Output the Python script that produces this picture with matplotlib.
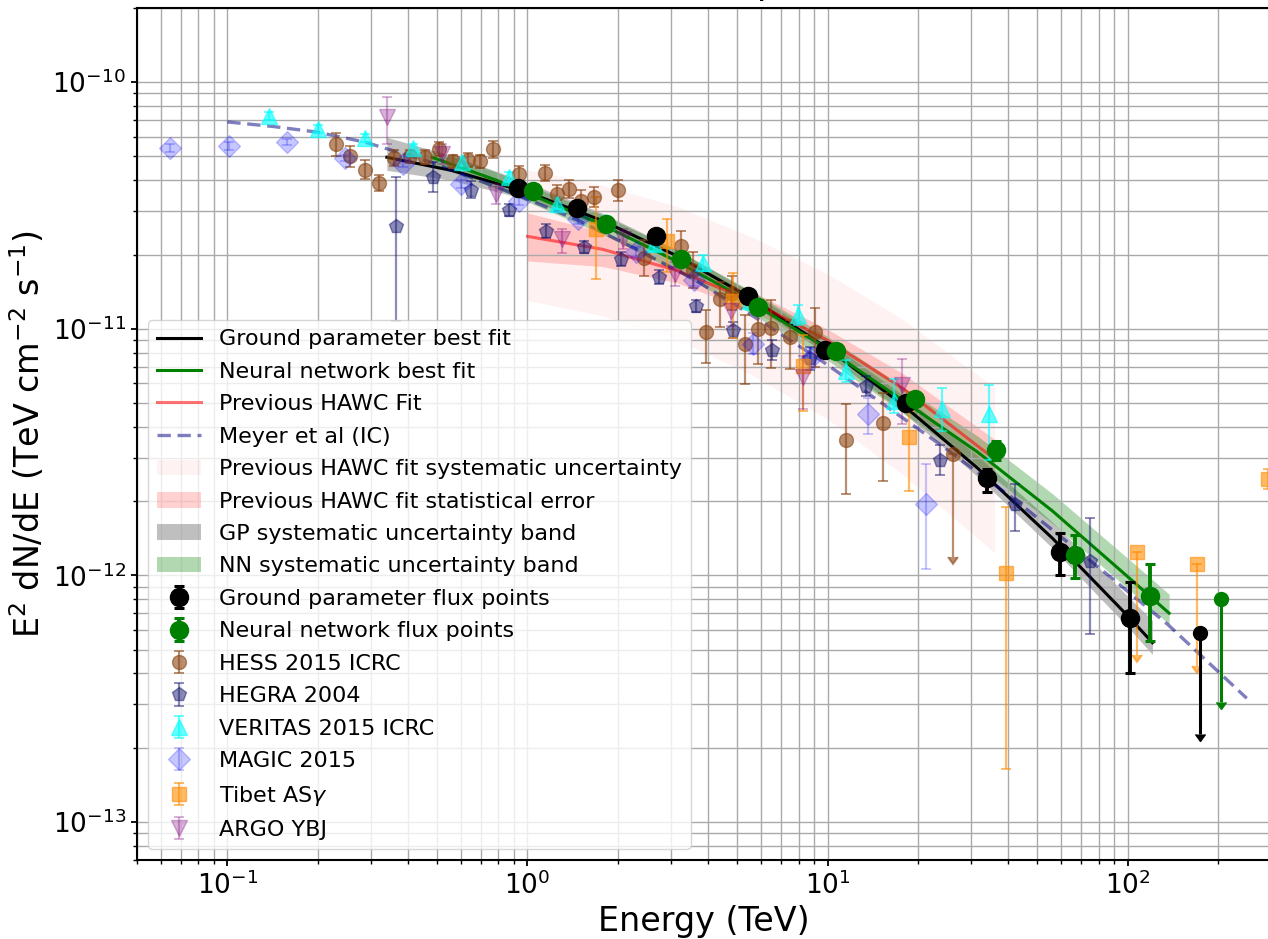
import numpy as np
import matplotlib
matplotlib.use("Agg")
import matplotlib.pyplot as plt

# ---------------- data ----------------
# Ground parameter (GP) flux points
gp_E = [0.933, 1.46, 2.69, 5.41, 9.82, 18.3, 34.0, 59.3, 101.6]
gp_F = [3.73e-11, 3.09e-11, 2.37e-11, 1.36e-11, 8.19e-12, 5.0e-12, 2.47e-12, 1.24e-12, 6.70e-13]
gp_lo = [3.60e-11, 2.98e-11, 2.28e-11, 1.30e-11, 7.8e-12, 4.75e-12, 2.17e-12, 1.0e-12, 4.0e-13]
gp_hi = [3.86e-11, 3.20e-11, 2.46e-11, 1.42e-11, 8.6e-12, 5.3e-12, 2.70e-12, 1.49e-12, 9.4e-13]
gp_ul_E = [174.6]
gp_ul_F = [5.83e-13]
gp_ul_end = [2.27e-13]

# Neural network (NN) flux points
nn_E = [1.04, 1.83, 3.25, 5.84, 10.7, 19.6, 36.3, 66.7, 118.4]
nn_F = [3.61e-11, 2.65e-11, 1.91e-11, 1.23e-11, 8.14e-12, 5.17e-12, 3.22e-12, 1.21e-12, 8.27e-13]
nn_lo = [3.50e-11, 2.57e-11, 1.85e-11, 1.19e-11, 7.85e-12, 4.95e-12, 2.93e-12, 9.76e-13, 5.4e-13]
nn_hi = [3.72e-11, 2.73e-11, 1.97e-11, 1.27e-11, 8.45e-12, 5.4e-12, 3.5e-12, 1.46e-12, 1.11e-12]
nn_ul_E = [204.0]
nn_ul_F = [8.04e-13]
nn_ul_end = [3.07e-13]

# GP best fit curve and systematic band (band offsets in dex)
gp_fit_E = [0.34, 0.562, 1.0, 1.78, 3.16, 5.62, 10.0, 17.8, 31.6, 56.2, 100.0, 120.8]
gp_fit_F = [4.96e-11, 4.38e-11, 3.58e-11, 2.74e-11, 1.97e-11, 1.32e-11, 8.32e-12,
            4.91e-12, 2.72e-12, 1.41e-12, 6.84e-13, 5.33e-13]
gp_band_up = [0.081, 0.06, 0.04, 0.03, 0.025, 0.025, 0.03, 0.04, 0.05, 0.065, 0.08, 0.09]
gp_band_dn = [0.053, 0.04, 0.03, 0.025, 0.025, 0.025, 0.025, 0.03, 0.035, 0.04, 0.045, 0.048]

# NN best fit curve and systematic band
nn_fit_E = [0.481, 0.794, 1.78, 3.16, 5.62, 10.0, 17.8, 31.6, 56.2, 100.0, 137.3]
nn_fit_F = [4.96e-11, 3.99e-11, 2.64e-11, 1.87e-11, 1.27e-11, 8.27e-12, 5.12e-12,
            3.16e-12, 1.82e-12, 9.86e-13, 7.02e-13]
nn_band_up = [0.03, 0.033, 0.04, 0.045, 0.047, 0.05, 0.055, 0.065, 0.07, 0.075, 0.077]
nn_band_dn = [0.03, 0.033, 0.038, 0.042, 0.045, 0.045, 0.05, 0.055, 0.05, 0.048, 0.045]

# Previous HAWC fit with statistical and systematic bands
prev_E = [1.0, 1.78, 3.16, 5.62, 10.0, 17.8, 36.0]
prev_F = [2.37e-11, 2.10e-11, 1.72e-11, 1.29e-11, 8.97e-12, 5.73e-12, 2.96e-12]
prev_stat_up = [0.095, 0.07, 0.05, 0.04, 0.045, 0.06, 0.08]
prev_stat_dn = [0.10, 0.07, 0.05, 0.04, 0.045, 0.06, 0.08]
prev_sys_up = [0.27, 0.26, 0.26, 0.26, 0.27, 0.28, 0.29]
prev_sys_dn = [0.26, 0.27, 0.28, 0.30, 0.32, 0.35, 0.38]

# Meyer et al. (IC) model
meyer_E = [0.1, 0.141, 0.2, 0.288, 0.479, 0.933, 1.479, 2.29, 3.59, 6.10, 9.55,
           14.3, 23.7, 41.7, 73.3, 136.0, 249.0]
meyer_F = [6.90e-11, 6.62e-11, 6.27e-11, 5.71e-11, 4.73e-11, 3.47e-11, 2.75e-11,
           2.11e-11, 1.585e-11, 1.06e-11, 7.41e-12, 5.25e-12, 3.39e-12, 2.04e-12,
           1.175e-12, 6.31e-13, 3.17e-13]

# HESS 2015 ICRC (errors in dex)
hess_E = [0.231, 0.256, 0.288, 0.319, 0.360, 0.406, 0.455, 0.509, 0.564, 0.633, 0.696,
          0.770, 0.940, 1.14, 1.25, 1.38, 1.51, 1.66, 2.01, 2.44, 3.25, 3.56, 3.94,
          4.37, 4.80, 5.29, 5.86, 6.46, 7.47, 9.05, 11.5, 15.3]
hess_F = [5.60e-11, 5.0e-11, 4.42e-11, 3.91e-11, 4.94e-11, 5.0e-11, 4.97e-11, 5.34e-11,
          4.77e-11, 4.82e-11, 4.77e-11, 5.34e-11, 4.23e-11, 4.28e-11, 3.53e-11, 3.70e-11,
          3.31e-11, 3.42e-11, 3.64e-11, 1.94e-11, 2.17e-11, 1.73e-11, 9.66e-12, 1.32e-11,
          1.39e-11, 8.67e-12, 9.97e-12, 1.01e-11, 9.22e-12, 9.66e-12, 3.53e-12, 4.16e-12]
hess_up = [0.045, 0.041, 0.037, 0.033, 0.033, 0.028, 0.028, 0.028, 0.028, 0.028, 0.028,
           0.033, 0.033, 0.033, 0.037, 0.037, 0.041, 0.041, 0.041, 0.073, 0.061, 0.073,
           0.093, 0.069, 0.069, 0.118, 0.118, 0.114, 0.069, 0.098, 0.146, 0.122]
hess_dn = [0.049, 0.041, 0.037, 0.033, 0.033, 0.028, 0.028, 0.028, 0.028, 0.028, 0.028,
           0.033, 0.033, 0.033, 0.037, 0.037, 0.041, 0.041, 0.041, 0.073, 0.073, 0.073,
           0.122, 0.114, 0.069, 0.163, 0.142, 0.163, 0.126, 0.142, 0.220, 0.236]
hess_ul_E = [26.2]
hess_ul_F = [3.10e-12]
hess_ul_end = [1.19e-12]

# HEGRA 2004
hegra_E = [0.365, 0.483, 0.649, 0.867, 1.15, 1.54, 2.05, 2.75, 3.65, 4.85, 6.51, 8.71,
           13.4, 23.7, 42.2, 74.7]
hegra_F = [2.62e-11, 4.12e-11, 3.67e-11, 3.02e-11, 2.50e-11, 2.14e-11, 1.92e-11, 1.62e-11,
           1.24e-11, 9.88e-12, 8.19e-12, 7.64e-12, 5.86e-12, 2.93e-12, 1.94e-12, 1.14e-12]
hegra_up = [0.199, 0.061, 0.033, 0.024, 0.028, 0.024, 0.028, 0.028, 0.024, 0.033, 0.041,
            0.041, 0.041, 0.061, 0.081, 0.175]
hegra_dn = [0.386, 0.061, 0.033, 0.024, 0.028, 0.024, 0.028, 0.028, 0.024, 0.033, 0.041,
            0.049, 0.041, 0.061, 0.110, 0.297]

# VERITAS 2015 ICRC
ver_E = [0.138, 0.200, 0.288, 0.416, 0.605, 0.871, 1.25, 1.82, 2.63, 3.84, 5.5, 7.96,
         11.5, 16.6, 24.0, 34.5]
ver_F = [7.29e-11, 6.48e-11, 5.96e-11, 5.42e-11, 4.75e-11, 4.12e-11, 3.22e-11, 2.7e-11,
         2.2e-11, 1.85e-11, 1.3e-11, 1.14e-11, 6.75e-12, 5.1e-12, 4.72e-12, 4.5e-12]
ver_up = [0.016, 0.016, 0.016, 0.016, 0.016, 0.02, 0.024, 0.024, 0.028, 0.033, 0.037,
          0.041, 0.045, 0.089, 0.085, 0.118]
ver_dn = [0.016, 0.016, 0.016, 0.016, 0.016, 0.02, 0.024, 0.024, 0.028, 0.033, 0.037,
          0.041, 0.045, 0.049, 0.089, 0.187]

# MAGIC 2015
magic_E = [0.0646, 0.101, 0.158, 0.247, 0.384, 0.601, 0.940, 1.47, 2.30, 3.59, 5.64,
           8.8, 13.6, 21.3]
magic_F = [5.43e-11, 5.49e-11, 5.72e-11, 4.94e-11, 4.67e-11, 3.85e-11, 3.31e-11, 2.79e-11,
           2.04e-11, 1.57e-11, 8.71e-12, 7.6e-12, 4.53e-12, 1.95e-12]
magic_up = [0.016, 0.016, 0.012, 0.012, 0.012, 0.016, 0.016, 0.02, 0.02, 0.024, 0.041,
            0.041, 0.065, 0.163]
magic_dn = [0.016, 0.016, 0.012, 0.012, 0.012, 0.016, 0.016, 0.02, 0.02, 0.024, 0.041,
            0.041, 0.085, 0.264]

# Tibet AS-gamma
tibet_E = [1.69, 2.92, 4.83, 8.28, 18.6, 39.4, 292.0]
tibet_F = [2.54e-11, 2.26e-11, 1.29e-11, 7.03e-12, 3.64e-12, 1.02e-12, 2.45e-12]
tibet_up = [0.130, 0.089, 0.114, 0.126, 0.106, 0.268, 0.04]
tibet_dn = [0.203, 0.122, 0.150, 0.179, 0.220, 0.793, 0.04]
tibet_ul_E = [107.0, 170.0]
tibet_ul_F = [1.24e-12, 1.11e-12]
tibet_ul_end = [4.76e-13, 4.27e-13]

# ARGO YBJ
argo_E = [0.34, 0.52, 0.787, 1.30, 2.08, 3.11, 4.78, 8.3, 17.7]
argo_F = [7.23e-11, 5.13e-11, 3.53e-11, 2.32e-11, 2.32e-11, 1.67e-11, 1.18e-11, 6.4e-12, 5.92e-12]
argo_up = [0.081, 0.041, 0.041, 0.041, 0.041, 0.049, 0.061, 0.085, 0.106]
argo_dn = [0.110, 0.041, 0.041, 0.057, 0.041, 0.049, 0.061, 0.130, 0.159]


def dex_err(F, up, dn):
    F = np.asarray(F)
    return np.vstack([F - F * 10 ** (-np.asarray(dn)), F * 10 ** np.asarray(up) - F])


def abs_err(F, lo, hi):
    F = np.asarray(F)
    return np.vstack([F - np.asarray(lo), np.asarray(hi) - F])


def band(F, up, dn):
    F = np.asarray(F)
    return F * 10 ** (-np.asarray(dn)), F * 10 ** np.asarray(up)


# ---------------- figure ----------------
fig = plt.figure(figsize=(12.68, 9.39), dpi=100)
ax = fig.add_axes([0.108, 0.0841, 0.8944, 0.9074])
ax.set_xscale("log")
ax.set_yscale("log")

# bands
lo, hi = band(prev_F, prev_sys_up, prev_sys_dn)
h_sys = ax.fill_between(prev_E, lo, hi, color="red", alpha=0.05, lw=0,
                        label="Previous HAWC fit systematic uncertainty")
lo, hi = band(prev_F, prev_stat_up, prev_stat_dn)
h_stat = ax.fill_between(prev_E, lo, hi, color="red", alpha=0.18, lw=0,
                         label="Previous HAWC fit statistical error")
lo, hi = band(gp_fit_F, gp_band_up, gp_band_dn)
h_gpb = ax.fill_between(gp_fit_E, lo, hi, color="gray", alpha=0.5, lw=0,
                        label="GP systematic uncertainty band")
lo, hi = band(nn_fit_F, nn_band_up, nn_band_dn)
h_nnb = ax.fill_between(nn_fit_E, lo, hi, color="green", alpha=0.3, lw=0,
                        label="NN systematic uncertainty band")

# curves
h_gpl, = ax.plot(gp_fit_E, gp_fit_F, color="black", lw=2.2, label="Ground parameter best fit")
h_nnl, = ax.plot(nn_fit_E, nn_fit_F, color="green", lw=2.2, label="Neural network best fit")
h_prl, = ax.plot(prev_E, prev_F, color="red", lw=2.2, alpha=0.55, label="Previous HAWC Fit")
h_mey, = ax.plot(meyer_E, meyer_F, color="navy", ls="--", lw=2.4, alpha=0.5,
                 dashes=(4, 2), label="Meyer et al (IC)")

common = dict(capsize=3.5, elinewidth=1.6, capthick=1.4)
# other experiments
h_hess = ax.errorbar(hess_E, hess_F, yerr=dex_err(hess_F, hess_up, hess_dn), fmt="o",
                     color="saddlebrown", alpha=0.6, ms=10, label="HESS 2015 ICRC", **common)
ax.errorbar(hess_ul_E, hess_ul_F, yerr=[np.asarray(hess_ul_F) - np.asarray(hess_ul_end)],
            uplims=True, fmt="o", color="saddlebrown", alpha=0.6, ms=10, **common)
h_hegra = ax.errorbar(hegra_E, hegra_F, yerr=dex_err(hegra_F, hegra_up, hegra_dn), fmt="p",
                      color="midnightblue", alpha=0.5, ms=10, label="HEGRA 2004", **common)
h_ver = ax.errorbar(ver_E, ver_F, yerr=dex_err(ver_F, ver_up, ver_dn), fmt="^",
                    color="cyan", alpha=0.6, ms=11, label="VERITAS 2015 ICRC", **common)
h_magic = ax.errorbar(magic_E, magic_F, yerr=dex_err(magic_F, magic_up, magic_dn), fmt="D",
                      color="blue", alpha=0.22, ms=11, label="MAGIC 2015", **common)
h_tibet = ax.errorbar(tibet_E, tibet_F, yerr=dex_err(tibet_F, tibet_up, tibet_dn), fmt="s",
                      color="darkorange", alpha=0.6, ms=10, label=r"Tibet AS$\gamma$", **common)
ax.errorbar(tibet_ul_E, tibet_ul_F, yerr=[np.asarray(tibet_ul_F) - np.asarray(tibet_ul_end)],
            uplims=True, fmt="s", color="darkorange", alpha=0.6, ms=10, **common)
h_argo = ax.errorbar(argo_E, argo_F, yerr=dex_err(argo_F, argo_up, argo_dn), fmt="v",
                     color="purple", alpha=0.3, ms=11, label="ARGO YBJ", **common)

# HAWC flux points
h_gpp = ax.errorbar(gp_E, gp_F, yerr=abs_err(gp_F, gp_lo, gp_hi), fmt="o", color="black",
                    ms=13, capsize=3.5, elinewidth=2.8, capthick=2.2,
                    label="Ground parameter flux points", zorder=5)
ax.errorbar(gp_ul_E, gp_ul_F, yerr=[np.asarray(gp_ul_F) - np.asarray(gp_ul_end)], uplims=True,
            fmt="o", color="black", ms=10, capsize=3.5, elinewidth=2.2, zorder=5)
h_nnp = ax.errorbar(nn_E, nn_F, yerr=abs_err(nn_F, nn_lo, nn_hi), fmt="o", color="green",
                    ms=13, capsize=3.5, elinewidth=2.8, capthick=2.2,
                    label="Neural network flux points", zorder=5)
ax.errorbar(nn_ul_E, nn_ul_F, yerr=[np.asarray(nn_ul_F) - np.asarray(nn_ul_end)], uplims=True,
            fmt="o", color="green", ms=10, capsize=3.5, elinewidth=2.2, zorder=5)

ax.set_xlim(0.05, 300)
ax.set_ylim(7e-14, 2e-10)
ax.grid(True, which="both", color="#a9a9a9", lw=1.0)
ax.tick_params(axis="both", which="major", labelsize=19, length=4.5, width=1.3)
ax.tick_params(axis="both", which="minor", length=2.8, width=1.0)
for s in ax.spines.values():
    s.set_linewidth(1.5)

ax.set_xlabel("Energy (TeV)", fontsize=24)
ax.set_ylabel(r"E$^2$ dN/dE (TeV cm$^{-2}$ s$^{-1}$)", fontsize=24)
ax.set_title("Crab Nebula Spectrum", fontsize=26, pad=10)

handles = [h_gpl, h_nnl, h_prl, h_mey, h_sys, h_stat, h_gpb, h_nnb,
           h_gpp, h_nnp, h_hess, h_hegra, h_ver, h_magic, h_tibet, h_argo]
ax.legend(handles=handles, labels=[h.get_label() for h in handles], loc="lower left",
          fontsize=16, framealpha=0.8, labelspacing=0.56)

fig.savefig("out.png", dpi=100)
